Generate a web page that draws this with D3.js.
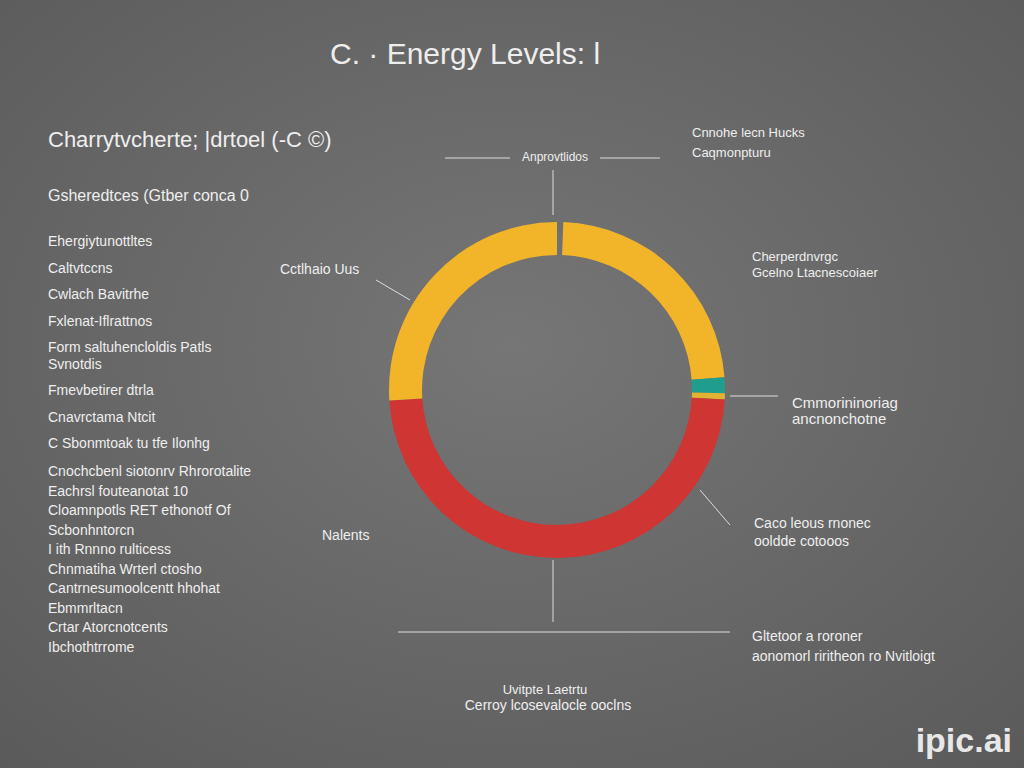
<!DOCTYPE html>
<html><head><meta charset="utf-8">
<script src="https://cdn.jsdelivr.net/npm/d3@7"></script>
<style>body{margin:0;background:#666}text{font-family:"Liberation Sans",Arial,sans-serif}</style>
</head><body><svg id="c" width="1024" height="768"></svg>
<script>
// ring segments, clockwise from the top (gap first)
const segNames = ['gap', 'Yellow A', 'Teal', 'Thin', 'Red', 'Yellow B'];
const segValues = [0.6, 23.2, 1.5, 0.6, 48.1, 26.0];
const segColors = ['none', '#f2b52a', '#1f9e8e', '#e0b332', '#cf3533', '#f2b52a'];

const leftLabels = ['Ehergiytunottltes', 'Caltvtccns', 'Cwlach Bavitrhe', 'Fxlenat-Iflrattnos',
  'Form saltuhencloldis Patls', 'Svnotdis', 'Fmevbetirer dtrla', 'Cnavrctama Ntcit',
  'C Sbonmtoak tu tfe Ilonhg'];
const leftLabels2 = ['Cnochcbenl siotonrv Rhrorotalite', 'Eachrsl fouteanotat 10',
  'Cloamnpotls RET ethonotf Of', 'Scbonhntorcn', 'I ith Rnnno rulticess',
  'Chnmatiha Wrterl ctosho', 'Cantrnesumoolcentt hhohat', 'Ebmmrltacn',
  'Crtar Atorcnotcents', 'Ibchothtrrome'];

const svg = d3.select('#c');
const defs = svg.append('defs');
const g = defs.append('radialGradient').attr('id', 'bg').attr('cx', '50%').attr('cy', '45%').attr('r', '75%');
g.append('stop').attr('offset', '0%').attr('stop-color', '#767676');
g.append('stop').attr('offset', '100%').attr('stop-color', '#5a5a5a');
svg.append('rect').attr('width', 1024).attr('height', 768).attr('fill', 'url(#bg)');

const txt = (x, y, s, size, anchor) => svg.append('text').attr('x', x).attr('y', y)
  .attr('fill', '#eee').attr('font-size', size).attr('text-anchor', anchor || 'start').text(s);

txt(330, 64, 'C.  · Energy Levels: l', 30);
txt(48, 147, 'Charrytvcherte; |drtoel (-C  ©)', 22);
txt(48, 201, 'Gsheredtces (Gtber conca  0', 16);
leftLabels.forEach((s, i) => txt(48, 246 + i * 26.5 - (i > 4 ? 10 : 0), s, 14));
leftLabels2.forEach((s, i) => txt(48, 476 + i * 19.5, s, 14));

const cx = 557, cy = 390;
const pie = d3.pie().sort(null).value(d => d)(segValues);
const arc = d3.arc().innerRadius(135).outerRadius(168);
svg.append('g').attr('transform', `translate(${cx},${cy})`)
  .selectAll('path').data(pie).join('path')
  .attr('d', arc).attr('fill', (d, i) => segColors[i]);

const line = pts => svg.append('path').attr('d', d3.line()(pts)).attr('stroke', '#ddd')
  .attr('stroke-width', 1).attr('fill', 'none');
line([[445, 158], [510, 158]]); line([[600, 158], [660, 158]]);
line([[553, 170], [553, 215]]);
line([[376, 280], [410, 300]]);
line([[730, 396], [778, 396]]);
line([[700, 490], [730, 525]]);
line([[553, 560], [553, 622]]);
line([[398, 632], [730, 632]]);

txt(555, 161, 'Anprovtlidos', 12, 'middle');
txt(692, 137, 'Cnnohe lecn Hucks', 13);
txt(692, 157, 'Caqmonpturu', 13);
txt(280, 274, 'Cctlhaio Uus', 14);
txt(752, 261, 'Cherperdnvrgc', 13);
txt(752, 277, 'Gcelno Ltacnescoiaer', 13);
txt(792, 408, 'Cmmorininoriag', 15);
txt(792, 424, 'ancnonchotne', 15);
txt(322, 540, 'Nalents', 14);
txt(754, 528, 'Caco  leous rnonec', 14);
txt(754, 546, 'ooldde cotooos', 14);
txt(752, 641, 'Gltetoor a roroner', 14);
txt(752, 661, 'aonomorl riritheon ro Nvitloigt', 14);
txt(545, 694, 'Uvitpte Laetrtu', 13, 'middle');
txt(548, 710, 'Cerroy lcosevalocle ooclns', 14, 'middle');
txt(1012, 752, 'ipic.ai', 34, 'end').attr('font-weight', 'bold').attr('fill', '#e8e8e8');
</script></body></html>
